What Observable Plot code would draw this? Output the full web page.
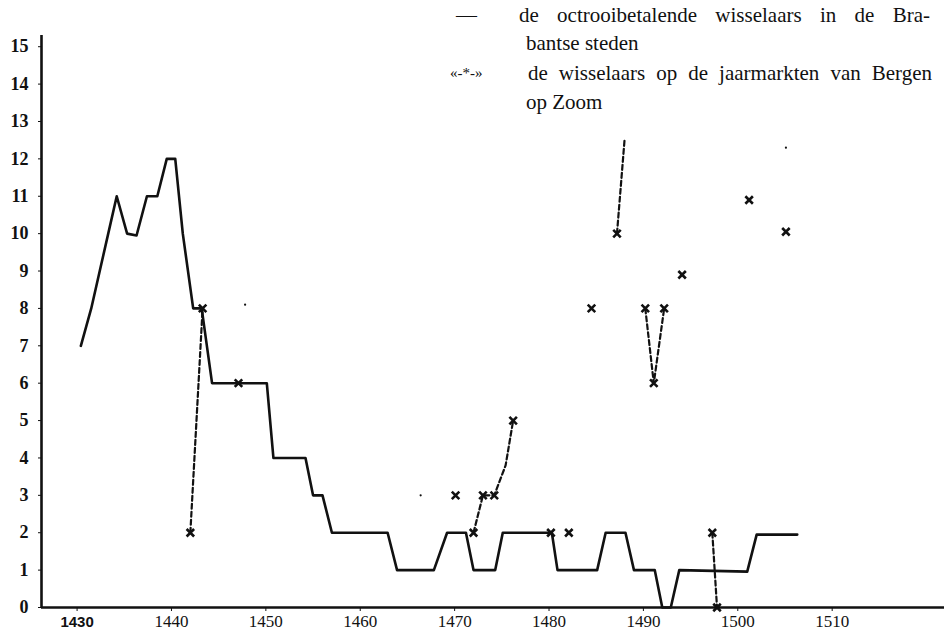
<!DOCTYPE html>
<html>
<head>
<meta charset="utf-8">
<script src="https://cdn.jsdelivr.net/npm/d3@7"></script>
<script src="https://cdn.jsdelivr.net/npm/@observablehq/plot@0.6"></script>
<style>
  html, body { margin: 0; padding: 0; background: #fff; }
  #wrap { position: relative; width: 944px; height: 640px; overflow: hidden; }
  #wrap svg { display: block; }
  .leg { position: absolute; font-family: "Liberation Serif", "DejaVu Serif", serif; font-size: 21px; line-height: 30px; color: #111; white-space: nowrap; }
  .just { text-align: justify; text-align-last: justify; white-space: normal; }
  .sym { position: absolute; font-family: "Liberation Serif", serif; color: #111; line-height: 30px; white-space: nowrap; }
</style>
</head>
<body>
<div id="wrap"></div>
<script>
// ---- data ----
// octrooibetalende wisselaars in de Brabantse steden (solid line)
const solidYears  = [1430.4, 1431.5, 1432.4, 1433.3, 1434.2, 1435.3, 1436.3, 1437.4, 1438.5, 1439.5, 1440.4, 1441.2, 1442.3, 1443.2, 1444.3, 1450.1, 1450.8, 1454.2, 1455.0, 1456.0, 1457.0, 1462.9, 1463.9, 1467.8, 1469.2, 1471.2, 1472.0, 1474.3, 1475.1, 1480.3, 1480.9, 1485.1, 1486.0, 1488.1, 1489.0, 1491.2, 1492.0, 1492.9, 1493.8, 1501.0, 1502.0, 1506.3];
const solidCounts = [7, 8, 9, 10, 11, 10, 9.95, 11, 11, 12, 12, 10, 8, 8, 6, 6, 4, 4, 3, 3, 2, 2, 1, 1, 2, 2, 1, 1, 2, 2, 1, 1, 2, 2, 1, 1, 0, 0, 1, 0.96, 1.95, 1.95];

// wisselaars op de jaarmarkten van Bergen op Zoom (dashed line, x markers)
const bergenYears   = [1442.0, 1443.3, 1447.1, 1470.1, 1472.0, 1473.0, 1474.2, 1475.4, 1476.2, 1480.2, 1482.1, 1484.5, 1487.2, 1488.0, 1490.2, 1491.1, 1492.2, 1494.1, 1497.3, 1497.8, 1501.2, 1505.1];
const bergenCounts  = [2, 8, 6, 3, 2, 3, 3, 3.8, 5, 2, 2, 8, 10, 12.5, 8, 6, 8, 8.9, 2, 0, 10.9, 10.05];
const bergenSegment = [1, 1, 2, 3, 4, 4, 4, 4, 4, 5, 6, 7, 8, 8, 9, 9, 9, 10, 11, 11, 12, 13];
const bergenMarked  = [1, 1, 1, 1, 1, 1, 1, 0, 1, 1, 1, 1, 1, 0, 1, 1, 1, 1, 1, 1, 1, 1];

// stray specks printed in the figure
const speckYears  = [1447.8, 1466.4, 1505.1];
const speckCounts = [8.1, 3, 12.3];

const xTickYears = [1430, 1440, 1450, 1460, 1470, 1480, 1490, 1500, 1510];
const yTickValues = [0, 1, 2, 3, 4, 5, 6, 7, 8, 9, 10, 11, 12, 13, 14, 15];
const xDomain = [1426.23, 1521.9];
const yDomain = [0, 15.3];

const legendSolidText = ["de octrooibetalende wisselaars in de Bra-", "bantse steden"];
const legendDashText = ["de wisselaars op de jaarmarkten van Bergen", "op Zoom"];

// ---- build tables ----
const solid = solidYears.map((y, i) => ({year: y, n: solidCounts[i]}));
const bergen = bergenYears.map((y, i) => ({year: y, n: bergenCounts[i], seg: bergenSegment[i], mark: bergenMarked[i]}));
const specks = speckYears.map((y, i) => ({year: y, n: speckCounts[i]}));

const chart = Plot.plot({
  width: 944,
  height: 640,
  marginLeft: 41,
  marginRight: 0,
  marginTop: 35,
  marginBottom: 33,
  style: {background: "white", color: "#111"},
  x: {domain: xDomain, axis: null},
  y: {domain: yDomain, axis: null},
  marks: [
    Plot.ruleX([xDomain[0]], {stroke: "#111", strokeWidth: 2.6}),
    Plot.ruleY([0], {stroke: "#111", strokeWidth: 2.6}),
    Plot.axisY(yTickValues, {tickSize: 3, tickFormat: () => "", label: null}),
    Plot.axisX(xTickYears, {tickSize: 4, tickFormat: () => "", label: null}),
    Plot.text(yTickValues, {y: d => d, text: d => String(d), frameAnchor: "left", dx: -13, textAnchor: "end", fontSize: 18, fontWeight: "bold", fill: "#111"}),
    Plot.text(xTickYears, {x: d => d, frameAnchor: "bottom", dy: 19, text: d => String(d), fontSize: 17, fill: "#111"}),
    Plot.line(solid, {x: "year", y: "n", stroke: "#111", strokeWidth: 2.6, strokeLinejoin: "round"}),
    Plot.line(bergen, {x: "year", y: "n", z: "seg", stroke: "#111", strokeWidth: 2.2, strokeDasharray: "5,3"}),
    Plot.dot(bergen.filter(d => d.mark), {x: "year", y: "n", symbol: "times", r: 3.5, stroke: "#111", strokeWidth: 2.6}),
    Plot.dot(specks, {x: "year", y: "n", r: 1.1, fill: "#111"})
  ]
});

// typographic touch-up of tick labels: serif, 1430 in bold sans (as printed)
d3.select(chart).selectAll("text").each(function() {
  const t = this.textContent.trim();
  const s = this.style;
  if (t.length === 4) {
    if (t === "1430") {
      s.fontFamily = '"Liberation Sans", Arial, sans-serif';
      s.fontWeight = "bold";
      s.fontSize = "15px";
    } else {
      s.fontFamily = '"Liberation Serif", "Times New Roman", serif';
      s.fontWeight = "normal";
      s.fontSize = "17px";
    }
  } else if (t.length > 0) {
    s.fontFamily = '"Liberation Serif", "Times New Roman", serif';
    s.fontWeight = "bold";
    s.fontSize = "18px";
  }
});

const wrap = document.getElementById("wrap");
wrap.appendChild(chart);

function addDiv(cls, text, styles) {
  const d = document.createElement("div");
  d.className = cls;
  d.textContent = text;
  Object.assign(d.style, styles);
  wrap.appendChild(d);
}
addDiv("sym", "\u2014", {left: "456px", top: "0px", fontSize: "21px"});
addDiv("leg just", legendSolidText[0], {left: "519px", top: "0px", width: "411px"});
addDiv("leg", legendSolidText[1], {left: "526px", top: "28px"});
addDiv("sym", "\u00ab-*-\u00bb", {left: "450px", top: "58px", fontSize: "15px"});
addDiv("leg just", legendDashText[0], {left: "528px", top: "58px", width: "404px"});
addDiv("leg", legendDashText[1], {left: "526px", top: "87px"});
</script>
</body>
</html>
